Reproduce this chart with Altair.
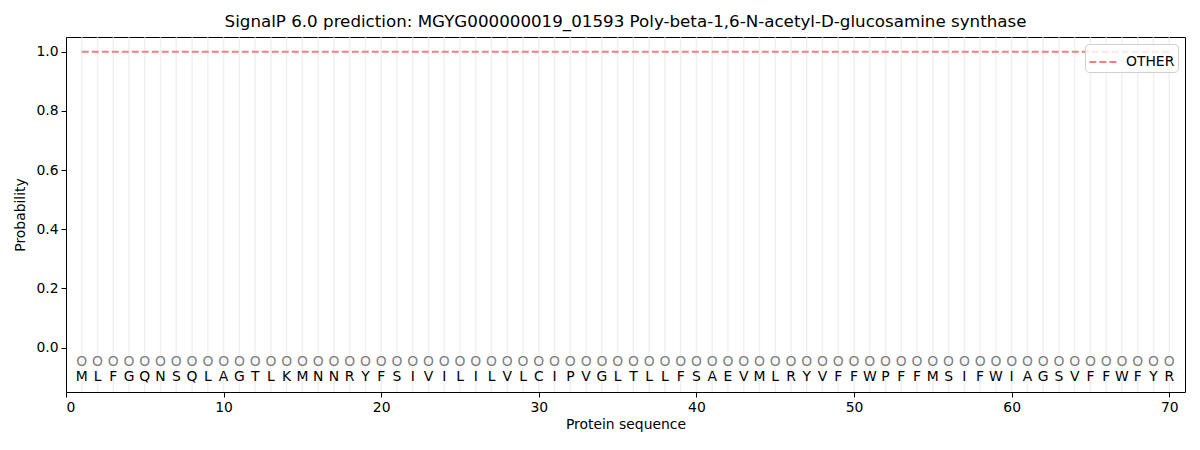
import altair as alt
import pandas as pd

# ---- data ----
sequence = list("MLFGQNSQLAGTLKMNNRYFSIVILILVLCIPVGLTLLFSAEVMLRYVFFWPFFMSIFWIAGSVFFWFYR")
positions = list(range(1, len(sequence) + 1))
other_prob = [1.0] * len(sequence)
pred_labels = ["O"] * len(sequence)
label_row_y = [-0.05] * len(sequence)
aa_row_y = [-0.1] * len(sequence)
x_ticks = [0, 10, 20, 30, 40, 50, 60, 70]
y_ticks = [0.0, 0.2, 0.4, 0.6, 0.8, 1.0]

df = pd.DataFrame({
    "pos": positions,
    "aa": sequence,
    "other": other_prob,
    "lab": pred_labels,
    "ly": label_row_y,
    "ay": aa_row_y,
    "series": ["OTHER"] * len(sequence),
})

FONT = "DejaVu Sans"
FS = 13.9
xscale = alt.Scale(domain=[0, 71], nice=False, zero=False)
yscale = alt.Scale(domain=[-0.15, 1.05], nice=False, zero=False)

xenc = alt.X("pos:Q", scale=xscale,
             axis=alt.Axis(values=x_ticks, title="Protein sequence", grid=False,
                           format="d", labelFontSize=FS, titleFontSize=FS,
                           labelFont=FONT, titleFont=FONT, tickSize=5,
                           tickColor="black", domain=False, labelColor="black",
                           titleColor="black", titleFontWeight="normal",
                           labelPadding=3, titlePadding=4))

base = alt.Chart(df)

grid = base.mark_rule(color="#e6e6e6", strokeWidth=1.5, opacity=0.6).encode(
    x=xenc,
    y=alt.value(0),
    y2=alt.value(355),
)

line = base.mark_line(strokeDash=[7, 3], strokeWidth=2).encode(
    x=alt.X("pos:Q", scale=xscale),
    y=alt.Y("other:Q", scale=yscale,
            axis=alt.Axis(values=y_ticks, format=".1f", title="Probability",
                          grid=False, labelFontSize=FS, titleFontSize=FS,
                          labelFont=FONT, titleFont=FONT, tickSize=5,
                          tickColor="black", domain=False, labelColor="black",
                          titleColor="black", titleFontWeight="normal",
                          labelPadding=3, titlePadding=8)),
    color=alt.Color("series:N",
                    scale=alt.Scale(domain=["OTHER"], range=["#f08080"]),
                    legend=alt.Legend(title=None, orient="top-right",
                                      symbolType="stroke", symbolStrokeWidth=2,
                                      symbolDash=[7, 3], symbolSize=750,
                                      labelFontSize=FS, labelFont=FONT,
                                      labelColor="black", labelOffset=8,
                                      strokeColor="#d0d0d0",
                                      fillColor="rgba(255,255,255,0.8)",
                                      cornerRadius=4, padding=3, offset=7)),
)

olabels = base.mark_text(fontSize=FS, font=FONT, color="#808080",
                         baseline="middle").encode(
    x=alt.X("pos:Q", scale=xscale),
    y=alt.Y("ly:Q", scale=yscale),
    text="lab:N",
)

aas = base.mark_text(fontSize=FS, font=FONT, color="black",
                     baseline="middle").encode(
    x=alt.X("pos:Q", scale=xscale),
    y=alt.Y("ay:Q", scale=yscale),
    text="aa:N",
)

chart = alt.layer(grid, line, olabels, aas).properties(
    width=1119,
    height=355,
    title=alt.TitleParams(
        "SignalP 6.0 prediction: MGYG000000019_01593 Poly-beta-1,6-N-acetyl-D-glucosamine synthase",
        fontSize=16.7, font=FONT, fontWeight="normal", color="black", offset=6),
    autosize=alt.AutoSizeParams(type="none"),
    padding={"left": 58, "top": 29, "right": 6, "bottom": 49},
).configure_view(stroke="black", strokeWidth=1)

chart.save("out.html", embed_options={"renderer": "svg", "actions": False})
